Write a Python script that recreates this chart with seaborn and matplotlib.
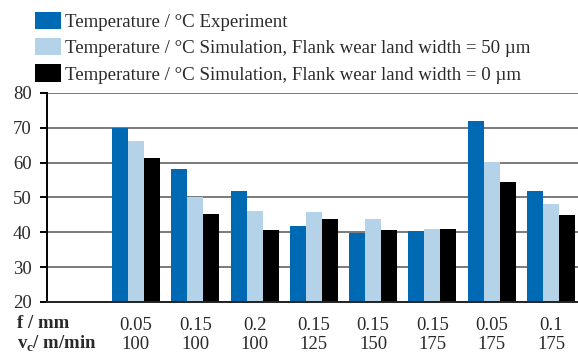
import matplotlib
matplotlib.use("Agg")
import matplotlib.pyplot as plt
from matplotlib.patches import Patch
import seaborn as sns
import pandas as pd

# Cutting conditions (feed, cutting speed) for each group of bars
feeds = ["0.05", "0.15", "0.2", "0.15", "0.15", "0.15", "0.05", "0.1"]
speeds = ["100", "100", "100", "125", "150", "175", "175", "175"]

series_names = [
    "Temperature / °C Experiment",
    "Temperature / °C Simulation, Flank wear land width = 50 µm",
    "Temperature / °C Simulation, Flank wear land width = 0 µm",
]
experiment = [70.0, 58.2, 51.9, 41.8, 39.9, 40.4, 72.0, 51.9]
sim_50um = [66.2, 50.2, 46.1, 45.9, 43.8, 41.0, 60.2, 48.2]
sim_0um = [61.4, 45.3, 40.7, 43.8, 40.7, 41.0, 54.5, 45.0]

colors = ["#0069B4", "#B4D3E8", "#000000"]
text_color = "#2a2a2a"

conditions = [f"{f}\n{v}" for f, v in zip(feeds, speeds)]
rows = []
for name, vals in zip(series_names, [experiment, sim_50um, sim_0um]):
    for cond, val in zip(conditions, vals):
        rows.append({"condition": cond, "series": name, "value": val})
df = pd.DataFrame(rows)

sns.set_theme(style="white")
plt.rcParams["font.family"] = ["Liberation Serif", "DejaVu Serif"]
plt.rcParams["mathtext.fontset"] = "custom"
plt.rcParams["mathtext.rm"] = "Liberation Serif"
plt.rcParams["mathtext.bf"] = "Liberation Serif:bold"

fig = plt.figure(figsize=(5.78, 3.56), dpi=100)
ax = fig.add_axes([47 / 578, 1 - 302 / 356, 533.7 / 578, 209 / 356])

order = [""] + conditions
sns.barplot(
    data=df, x="condition", y="value", hue="series", order=order,
    hue_order=series_names, palette=colors, width=0.81, gap=0,
    saturation=1, ax=ax, legend=False, edgecolor="none", linewidth=0,
)

ax.set_ylim(20, 80)
ax.set_xlim(-0.5, len(order) - 0.5)
ax.set_yticks([20, 30, 40, 50, 60, 70, 80])
ax.yaxis.grid(True, color="#7a7a7a", linewidth=1.4)
ax.set_axisbelow(True)
ax.set_xlabel("")
ax.set_ylabel("")

for side in ["top", "right"]:
    ax.spines[side].set_visible(False)
ax.spines["left"].set_color("black")
ax.spines["left"].set_linewidth(1.4)
ax.spines["bottom"].set_color("#222222")
ax.spines["bottom"].set_linewidth(1.4)

ax.tick_params(axis="y", which="major", left=True, length=5, width=1.4,
               color="black", labelsize=13.5, labelcolor=text_color, pad=6)
ax.tick_params(axis="x", bottom=False, labelsize=13.5, labelcolor=text_color, pad=5)
ax.set_xticks(range(len(order)))
ax.set_xticklabels(order, linespacing=1.15)

# Row headers for the condition labels
ax.text(17 / 578, 1 - 323 / 356, "f / mm", transform=fig.transFigure,
        ha="left", va="center", fontsize=13.5, fontweight="bold", color=text_color)
ax.text(17 / 578, 1 - 344 / 356, r"v$_\mathbf{c}$/ m/min", transform=fig.transFigure,
        ha="left", va="center", fontsize=13.5, fontweight="bold", color=text_color)

handles = [Patch(facecolor=c, edgecolor="none") for c in colors]
fig.legend(handles, series_names, loc="upper left",
           bbox_to_anchor=(27 / 578, 1 - 4 / 356), frameon=False,
           fontsize=13.6, handlelength=1.4, handleheight=1.05,
           handletextpad=0.2, labelspacing=0.38, borderaxespad=0,
           labelcolor=text_color)

fig.savefig("out.png", dpi=100)
